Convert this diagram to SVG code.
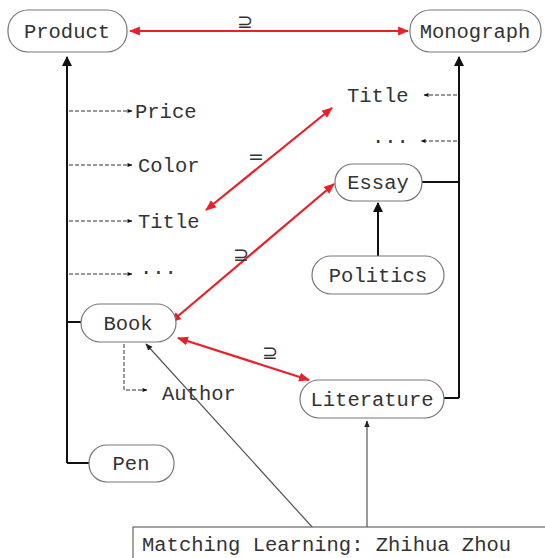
<svg xmlns="http://www.w3.org/2000/svg" width="545" height="558" viewBox="0 0 545 558">
<style>
.node rect{fill:#fff;stroke:#777;stroke-width:1.2}
text{font-family:"Liberation Mono","DejaVu Sans Mono",monospace;font-size:20.5px;fill:#333}
.blk{stroke:#111;stroke-width:2;fill:none}
.dash{stroke:#333;stroke-width:1;stroke-dasharray:4 2;fill:none}
.red{stroke:#e8202a;stroke-width:2.2;fill:none}
.gray{stroke:#555;stroke-width:1.2;fill:none}
.lbl{font-family:"DejaVu Sans",sans-serif;font-size:19px;fill:#333}
</style>
<defs>
<marker id="ab" viewBox="0 0 10 10" refX="9" refY="5" markerWidth="5" markerHeight="5" orient="auto"><path d="M0,0 L10,5 L0,10 z" fill="#111"/></marker>
<marker id="ad" viewBox="0 0 10 10" refX="9" refY="5" markerWidth="6" markerHeight="5" orient="auto"><path d="M0,1 L10,5 L0,9 z" fill="#111"/></marker>
<marker id="ar" viewBox="0 0 10 10" refX="9" refY="5" markerWidth="5" markerHeight="5" orient="auto-start-reverse"><path d="M0,1 L10,5 L0,9 z" fill="#e8202a"/></marker>
<marker id="ag" viewBox="0 0 10 10" refX="9" refY="5" markerWidth="6" markerHeight="6" orient="auto"><path d="M0,1 L10,5 L0,9 z" fill="#222"/></marker>
</defs>
<g id="connectors">
<path class="blk" d="M67,463 L67,57" marker-end="url(#ab)"/>
<path class="blk" d="M67,463 L90,463"/>
<path class="blk" d="M67,322 L81,322"/>
<path class="blk" d="M459,398 L459,57" marker-end="url(#ab)"/>
<path class="blk" d="M444,398 L459,398"/>
<path class="blk" d="M422,182 L459,182"/>
<path class="blk" d="M378,256 L378,203" marker-end="url(#ab)"/>
<path class="dash" d="M69,111 L132,111" marker-end="url(#ad)"/>
<path class="dash" d="M69,165 L132,165" marker-end="url(#ad)"/>
<path class="dash" d="M69,221 L132,221" marker-end="url(#ad)"/>
<path class="dash" d="M69,274 L132,274" marker-end="url(#ad)"/>
<path class="dash" d="M457,95 L424,95" marker-end="url(#ad)"/>
<path class="dash" d="M457,141 L421,141" marker-end="url(#ad)"/>
<path class="dash" d="M124,344 L124,390 L147,390" marker-end="url(#ad)"/>
<path class="red" d="M130,31 L408,31" marker-start="url(#ar)" marker-end="url(#ar)"/>
<path class="red" d="M206,210 L332,108" marker-start="url(#ar)" marker-end="url(#ar)"/>
<path class="red" d="M171,322 L334,184" marker-start="url(#ar)" marker-end="url(#ar)"/>
<path class="red" d="M178,338 L309,380" marker-start="url(#ar)" marker-end="url(#ar)"/>
<path class="gray" d="M313,528 L146,344" marker-end="url(#ag)"/>
<path class="gray" d="M367,528 L367,421" marker-end="url(#ag)"/>
<text class="lbl" x="245" y="28" text-anchor="middle">⊇</text>
<text class="lbl" x="256" y="163" text-anchor="middle">=</text>
<text class="lbl" x="241" y="261" text-anchor="middle">⊇</text>
<text class="lbl" x="270" y="359" text-anchor="middle">⊇</text>
</g>
<g id="product" class="node"><rect x="8" y="10" width="119" height="42" rx="20"/><text x="67" y="38" text-anchor="middle">Product</text></g>
<g id="monograph" class="node"><rect x="410" y="10" width="131" height="42" rx="20"/><text x="475" y="38" text-anchor="middle">Monograph</text></g>
<g id="price"><text x="135" y="118">Price</text></g>
<g id="color"><text x="138" y="172">Color</text></g>
<g id="title-left"><text x="138" y="228">Title</text></g>
<g id="dots-left"><text x="140" y="278">···</text></g>
<g id="title-right"><text x="347" y="102">Title</text></g>
<g id="dots-right"><text x="372" y="147">···</text></g>
<g id="essay" class="node"><rect x="335" y="164" width="87" height="37" rx="18"/><text x="378" y="189" text-anchor="middle">Essay</text></g>
<g id="politics" class="node"><rect x="312" y="256" width="132" height="38" rx="19"/><text x="378" y="282" text-anchor="middle">Politics</text></g>
<g id="book" class="node"><rect x="81" y="304" width="95" height="38" rx="19"/><text x="128" y="330" text-anchor="middle">Book</text></g>
<g id="author"><text x="162" y="400">Author</text></g>
<g id="literature" class="node"><rect x="300" y="380" width="144" height="38" rx="19"/><text x="372" y="406" text-anchor="middle">Literature</text></g>
<g id="pen" class="node"><rect x="89" y="445" width="85" height="37" rx="18"/><text x="131" y="470" text-anchor="middle">Pen</text></g>
<g id="source"><rect x="133" y="527" width="420" height="35" fill="#fff" stroke="#666" stroke-width="1.2"/><text x="142" y="551">Matching Learning: Zhihua Zhou</text></g>
</svg>
